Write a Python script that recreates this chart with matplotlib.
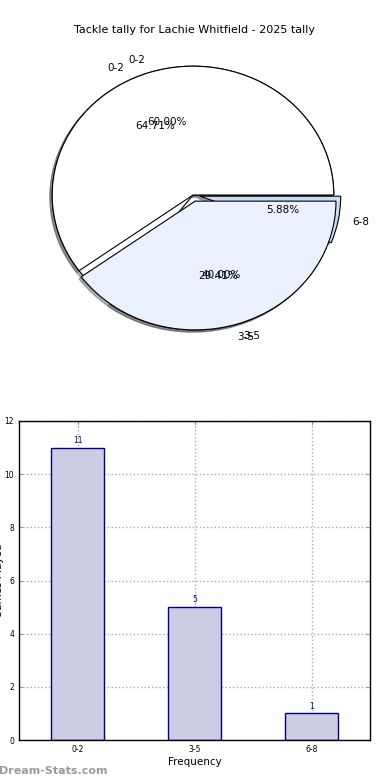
import matplotlib
matplotlib.use("Agg")
import matplotlib.pyplot as plt

title = "Tackle tally for Lachie Whitfield - 2025 tally"
categories = ["0-2", "3-5", "6-8"]
counts = [11, 5, 1]
# Earlier (stale) pie drawn on top of the full one in the reference
pie1_labels = ["0-2", "3-5"]
pie1_values = [60, 40]
pie_colors = ["#FFFFFF", "#EAF0FC", "#C9DBF5"]

fig = plt.figure(figsize=(3.9, 7.8), dpi=100)

# ---------- pie ----------
ax1 = fig.add_axes([17/390, 1 - 356/780, 352/390, 322/780])
wp = {"linewidth": 0.8, "edgecolor": "black"}
tp = {"fontsize": 7.5}
shadow = {"ox": -0.012, "oy": -0.012, "shade": 0.6}
ax1.pie(counts, labels=categories, colors=pie_colors, explode=[0, 0.05, 0.05],
        autopct="%.2f%%", shadow=shadow, startangle=0, wedgeprops=wp, textprops=tp)
ax1.pie(pie1_values, labels=pie1_labels, colors=pie_colors[:2], explode=[0, 0.05],
        autopct="%.2f%%", shadow=shadow, startangle=0, wedgeprops=wp, textprops=tp)
ax1.set_aspect("auto")
ax1.set_xlim(-1.25, 1.25)
ax1.set_ylim(-1.25, 1.25)

fig.text(195/390, 1 - 30/780, title, ha="center", va="center", fontsize=8)

# ---------- bar ----------
ax2 = fig.add_axes([19/390, 1 - 740/780, 351/390, 319/780])
x = list(range(len(categories)))
bars = ax2.bar(x, counts, width=0.45, color="#CCCCE5", edgecolor="#000080",
               linewidth=1.0, zorder=2)
for xi, v in zip(x, counts):
    ax2.annotate(str(v), (xi, v), xytext=(0, 2), textcoords="offset points",
                 ha="center", va="bottom", fontsize=5.5, color="#000080")
ax2.set_xlim(-0.5, 2.5)
ax2.set_ylim(0, 12)
ax2.set_yticks([0, 2, 4, 6, 8, 10, 12])
ax2.set_xticks(x)
ax2.set_xticklabels(categories)
ax2.tick_params(direction="in", top=True, right=True, labelsize=5.5, length=3,
                width=0.6, color="#888888")
ax2.grid(True, linestyle=":", color="#AAAAAA", linewidth=1.0, zorder=0)
ax2.set_axisbelow(True)
for s in ax2.spines.values():
    s.set_linewidth(1.0)
ax2.set_xlabel("Frequency", fontsize=7.5, labelpad=2)
ax2.set_ylabel("Games Played", fontsize=7.5)
ax2.yaxis.set_label_coords((4 - 19) / 351, 0.5)

fig.text(-0.003, 1 - 771/780, "Dream-Stats.com", ha="left", va="center",
         fontsize=8, fontweight="bold", color="#9A9A9A")

fig.savefig("out.png", dpi=100)
